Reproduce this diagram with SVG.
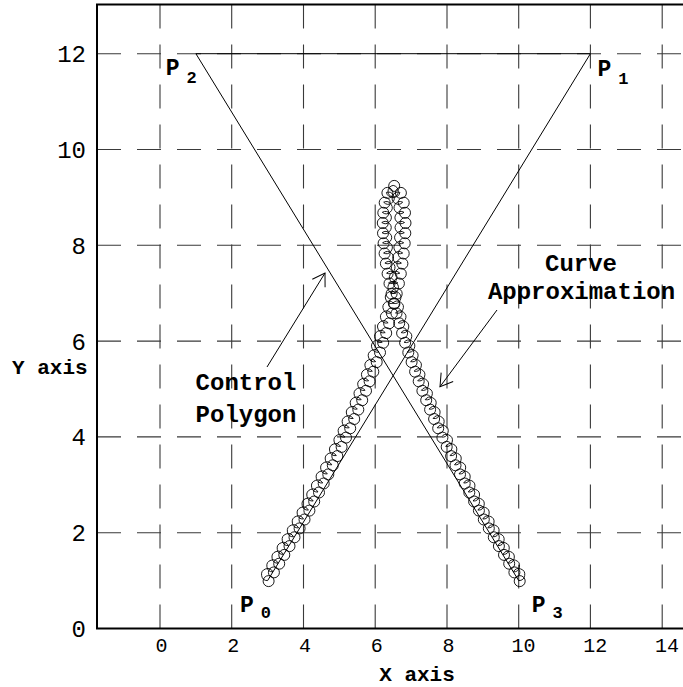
<svg xmlns="http://www.w3.org/2000/svg" width="683" height="687" viewBox="0 0 683 687">
<style>
.grid{stroke:#3a3a3a;stroke-width:1.1;stroke-dasharray:24 16;fill:none}
.axis{stroke:#000;stroke-width:2;fill:none}
.poly{stroke:#000;stroke-width:1;fill:none}
.curve{stroke:#000;stroke-width:0.9;fill:none;marker-start:url(#bead);marker-mid:url(#bead);marker-end:url(#bead)}
.tick{font-family:"Liberation Mono",monospace;fill:#000}
.ty{font-size:24px;text-anchor:end}
.tx{font-size:20px;text-anchor:middle}
.lbl{font-family:"Liberation Mono",monospace;font-weight:bold;fill:#000}
.p{font-family:"Liberation Mono",monospace;font-weight:bold;font-size:23px;fill:#000}
.sub{font-size:17px}
.arrow{stroke:#000;stroke-width:1;fill:none;marker-end:url(#ah)}
</style>
<defs>
<marker id="ah" viewBox="-13 -9 14 18" refX="0" refY="0" markerWidth="14" markerHeight="18" markerUnits="userSpaceOnUse" orient="auto" overflow="visible">
<path d="M-12,-7.5 L0,0 L-12,7.5" fill="none" stroke="#000" stroke-width="1"/>
</marker>
<marker id="bead" viewBox="-7 -7 14 14" refX="0" refY="0" markerWidth="14" markerHeight="14" markerUnits="userSpaceOnUse" overflow="visible">
<circle cx="1" cy="0.5" r="5.5" fill="none" stroke="#000" stroke-width="0.9"/>
</marker>
</defs>
<g id="grid">
<line class="grid" x1="97" y1="532.7" x2="683" y2="532.7"/>
<line class="grid" x1="97" y1="436.9" x2="683" y2="436.9"/>
<line class="grid" x1="97" y1="341.1" x2="683" y2="341.1"/>
<line class="grid" x1="97" y1="245.3" x2="683" y2="245.3"/>
<line class="grid" x1="97" y1="149.5" x2="683" y2="149.5"/>
<line class="grid" x1="97" y1="53.7" x2="683" y2="53.7"/>
<line class="grid" x1="160" y1="4.4" x2="160" y2="628.5"/>
<line class="grid" x1="231.7" y1="4.4" x2="231.7" y2="628.5"/>
<line class="grid" x1="303.5" y1="4.4" x2="303.5" y2="628.5"/>
<line class="grid" x1="375.2" y1="4.4" x2="375.2" y2="628.5"/>
<line class="grid" x1="447" y1="4.4" x2="447" y2="628.5"/>
<line class="grid" x1="518.7" y1="4.4" x2="518.7" y2="628.5"/>
<line class="grid" x1="590.4" y1="4.4" x2="590.4" y2="628.5"/>
<line class="grid" x1="662.2" y1="4.4" x2="662.2" y2="628.5"/>
</g>
<g id="axes">
<path class="axis" d="M683,4.4 H97 V628.5 H683"/>
<g class="tick ty">
<text x="86" y="62.2">12</text>
<text x="86" y="158">10</text>
<text x="86" y="253.8">8</text>
<text x="86" y="349.6">6</text>
<text x="86" y="445.4">4</text>
<text x="86" y="541.2">2</text>
<text x="86" y="637">0</text>
</g>
<g class="tick tx">
<text x="161.5" y="652">0</text>
<text x="233.2" y="652">2</text>
<text x="305" y="652">4</text>
<text x="376.7" y="652">6</text>
<text x="448.5" y="652">8</text>
<text x="523.5" y="652">10</text>
<text x="595.2" y="652">12</text>
<text x="667" y="652">14</text>
</g>
<text class="lbl" x="417" y="681" font-size="21" text-anchor="middle">X axis</text>
<text class="lbl" x="12" y="374" font-size="21">Y axis</text>
</g>
<g id="control-polygon">
<path class="poly" d="M267.6,580.6 L590.4,53.7 L195.9,53.7 L518.7,580.6"/>
</g>
<g id="curve-approximation">
<path class="curve" d="M267.6,580.6 A6 6 0 1 1 272.9,571.9 A6 6 0 1 1 278.2,563.2 A6 6 0 1 1 283.3,554.4 A6 6 0 1 1 288.5,545.6 A6 6 0 1 1 293.5,536.8 A6 6 0 1 1 298.6,527.9 A6 6 0 1 1 303.5,519.0 A6 6 0 1 1 308.4,510.1 A6 6 0 1 1 313.2,501.0 A6 6 0 1 1 318.0,492.0 A6 6 0 1 1 322.7,483.0 A6 6 0 1 1 327.3,473.9 A6 6 0 1 1 331.8,464.8 A6 6 0 1 1 336.3,455.6 A6 6 0 1 1 340.6,446.4 A6 6 0 1 1 345.0,437.1 A6 6 0 1 1 349.2,427.8 A6 6 0 1 1 353.2,418.5 A6 6 0 1 1 357.3,409.1 A6 6 0 1 1 361.2,399.7 A6 6 0 1 1 365.0,390.3 A6 6 0 1 1 368.6,380.8 A6 6 0 1 1 372.3,371.2 A6 6 0 1 1 375.7,361.6 A6 6 0 1 1 379.0,352.0 A6 6 0 1 1 382.2,342.3 A6 6 0 1 1 385.2,332.6 A6 6 0 1 1 388.1,322.8 A6 6 0 1 1 390.9,312.9 A6 6 0 1 1 393.4,303.1 A6 6 0 1 1 395.7,293.2 A6 6 0 1 1 397.9,283.0 A6 6 0 1 1 399.8,273.2 A6 6 0 1 1 401.4,263.1 A6 6 0 1 1 402.7,253.0 A6 6 0 1 1 403.7,242.8 A6 6 0 1 1 404.3,232.7 A6 6 0 1 1 404.5,222.5 A6 6 0 1 1 404.0,212.3 A6 6 0 1 1 402.7,202.2 A6 6 0 1 1 399.9,192.4 A6 6 0 1 1 393.2,185.4 A6 6 0 1 1 386.4,192.4 A6 6 0 1 1 383.7,202.2 A6 6 0 1 1 382.3,212.3 A6 6 0 1 1 381.8,222.5 A6 6 0 1 1 382.0,232.7 A6 6 0 1 1 382.6,242.8 A6 6 0 1 1 383.6,253.0 A6 6 0 1 1 384.9,263.1 A6 6 0 1 1 386.6,273.2 A6 6 0 1 1 388.5,283.0 A6 6 0 1 1 390.6,293.2 A6 6 0 1 1 392.9,303.1 A6 6 0 1 1 395.5,312.9 A6 6 0 1 1 398.2,322.8 A6 6 0 1 1 401.1,332.6 A6 6 0 1 1 404.1,342.3 A6 6 0 1 1 407.3,352.0 A6 6 0 1 1 410.6,361.6 A6 6 0 1 1 414.1,371.2 A6 6 0 1 1 417.7,380.8 A6 6 0 1 1 421.4,390.3 A6 6 0 1 1 425.2,399.7 A6 6 0 1 1 429.1,409.1 A6 6 0 1 1 433.1,418.5 A6 6 0 1 1 437.2,427.8 A6 6 0 1 1 441.4,437.1 A6 6 0 1 1 445.7,446.4 A6 6 0 1 1 450.1,455.6 A6 6 0 1 1 454.5,464.8 A6 6 0 1 1 459.0,473.9 A6 6 0 1 1 463.7,483.0 A6 6 0 1 1 468.3,492.0 A6 6 0 1 1 473.1,501.0 A6 6 0 1 1 477.9,510.1 A6 6 0 1 1 482.8,519.0 A6 6 0 1 1 487.8,527.9 A6 6 0 1 1 492.8,536.8 A6 6 0 1 1 497.9,545.6 A6 6 0 1 1 503.0,554.4 A6 6 0 1 1 508.2,563.2 A6 6 0 1 1 513.4,571.9 A6 6 0 1 1 518.7,580.6"/>
</g>
<g id="point-labels">
<g id="P0"><text class="p" x="240" y="611.7">P<tspan class="sub" dx="7" dy="6.6">0</tspan></text></g>
<g id="P1"><text class="p" x="597.5" y="76">P<tspan class="sub" dx="7" dy="8">1</tspan></text></g>
<g id="P2"><text class="p" x="165.8" y="75">P<tspan class="sub" dx="7" dy="8">2</tspan></text></g>
<g id="P3"><text class="p" x="531.8" y="611.7">P<tspan class="sub" dx="7" dy="6.6">3</tspan></text></g>
</g>
<g id="label-control-polygon">
<text class="lbl" font-size="24" text-anchor="middle"><tspan x="246" y="389.5">Control</tspan><tspan x="246" y="421.5">Polygon</tspan></text>
</g>
<g id="label-curve-approximation">
<text class="lbl" font-size="24" text-anchor="middle"><tspan x="581" y="271">Curve</tspan><tspan x="581.5" y="299">Approximation</tspan></text>
</g>
<g id="connectors">
<line class="arrow" x1="267" y1="367" x2="325" y2="273"/>
<line class="arrow" x1="497" y1="310" x2="440" y2="386.7"/>
</g>
</svg>
